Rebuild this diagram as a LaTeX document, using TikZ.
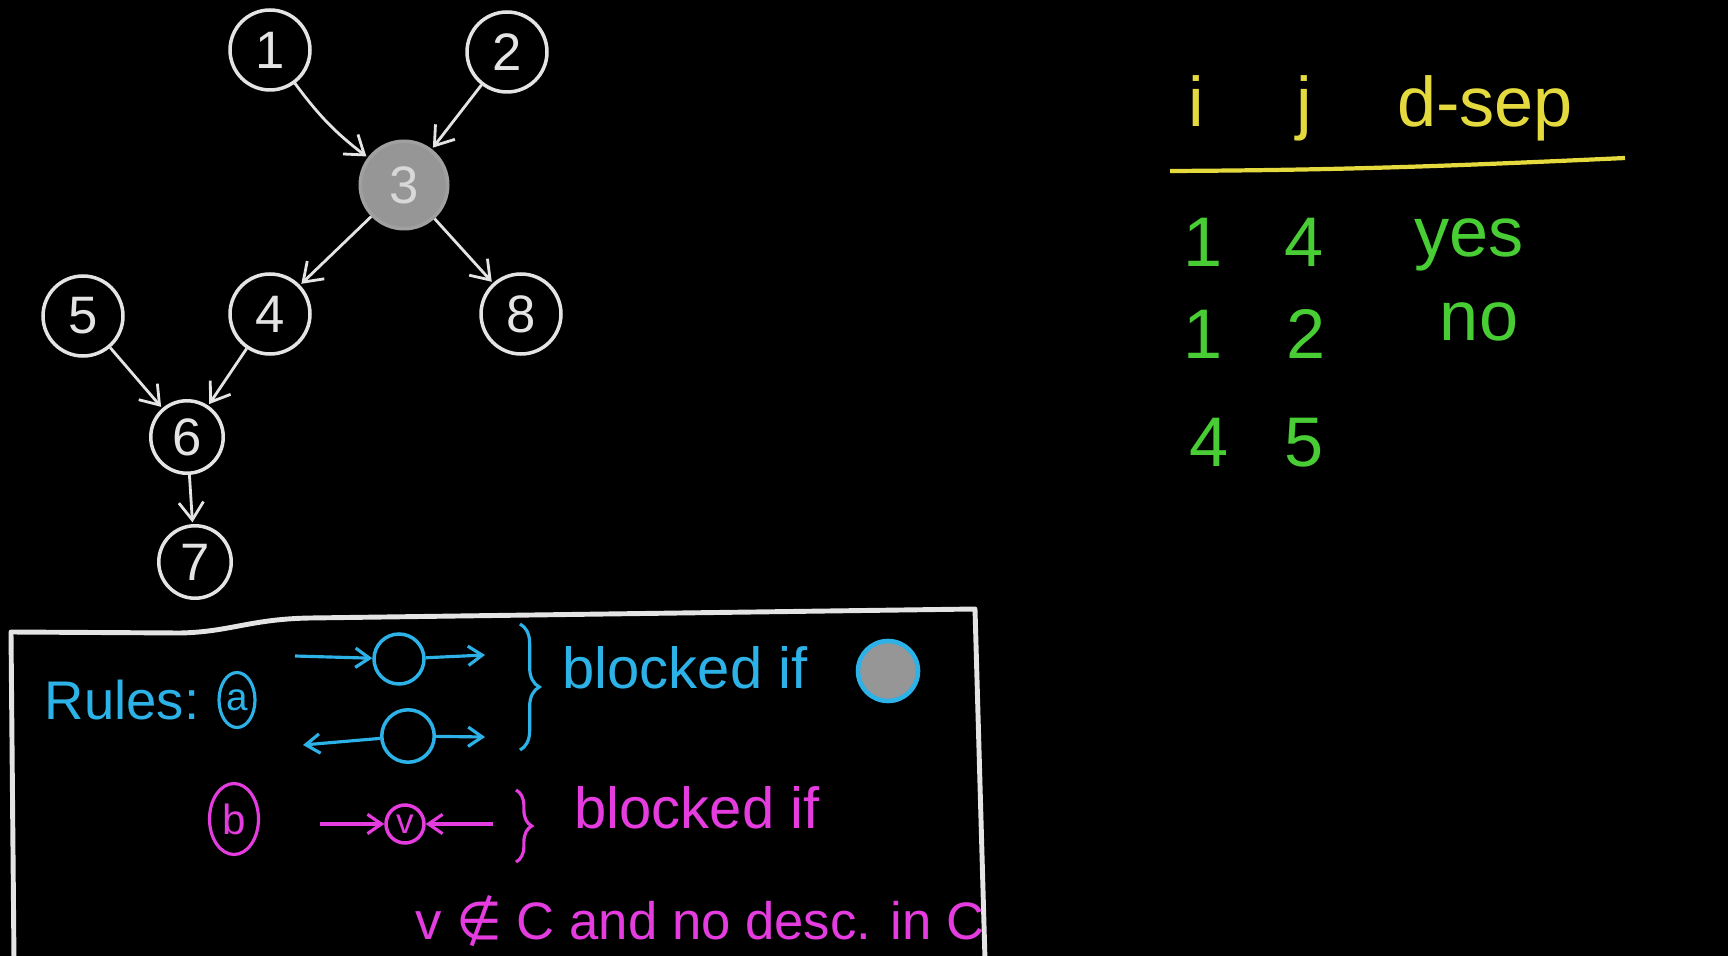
\documentclass[tikz,border=0pt]{standalone}
\usepackage{fontspec}
\setmainfont{Liberation Sans}
\newfontfamily\symfont{DejaVu Sans}
\usepackage{tikz}
\usetikzlibrary{shapes.geometric, positioning, arrows.meta, decorations.pathreplacing}
\definecolor{chalk}{RGB}{228,228,228}
\definecolor{obsgray}{RGB}{150,150,150}
\definecolor{rulecyan}{RGB}{45,178,232}
\definecolor{rulepink}{RGB}{228,60,222}
\definecolor{headyellow}{RGB}{228,218,62}
\definecolor{rowgreen}{RGB}{72,205,52}

\begin{document}
\begin{tikzpicture}[
        x=0.02cm, y=-0.02cm,
        vertex/.style={draw=chalk, circle, line width=2pt, minimum size=1.6cm, inner sep=0pt, text=chalk, font=\fontsize{30}{30}\selectfont},
        observed/.style={vertex, fill=obsgray, draw=obsgray!90!white, text=chalk!85!obsgray},
        arr/.style={-{Straight Barb[length=10pt, width=14pt]}, line width=1.6pt, chalk, shorten >=1pt},
        cyanarr/.style={-{Straight Barb[length=8pt, width=11pt]}, line width=1.8pt, rulecyan},
        pinkarr/.style={-{Straight Barb[length=8pt, width=11pt]}, line width=1.8pt, rulepink},
        blob/.style={circle, line width=2pt, inner sep=0pt, minimum size=1cm},
        note/.style={font=\fontsize{33}{36}\selectfont},
        cell/.style={anchor=base, font=\fontsize{40}{40}\selectfont}
    ]
    \useasboundingbox (0,0) rectangle (1728,956);
    \fill[black] (0,0) rectangle (1728,956);

    % Graph
    \node[vertex] (n1) at (270,50) {1};
    \node[vertex] (n2) at (507,52) {2};
    \node[observed, minimum size=1.75cm] (n3) at (404,185) {3};
    \node[vertex] (n4) at (270,314) {4};
    \node[vertex] (n5) at (83,316) {5};
    \node[vertex] (n8) at (521,314) {8};
    \node[vertex, minimum size=1.45cm] (n6) at (187,437) {6};
    \node[vertex, minimum size=1.45cm] (n7) at (195,562) {7};

    \draw[arr] (n1) to[bend right=8] (n3);
    \draw[arr] (n2) -- (n3);
    \draw[arr] (n3) -- (n4);
    \draw[arr] (n3) -- (n8);
    \draw[arr] (n5) -- (n6);
    \draw[arr] (n4) -- (n6);
    \draw[arr] (n6) -- (n7);

    % Rules box
    \draw[chalk, line width=2.8pt, line join=round]
        (14,960) -- (11,632) -- (180,633) .. controls (230,632) and (250,619) .. (310,618)
        -- (975,609) -- (985,960);

    % Rule (a)
    \node[note, text=rulecyan, font=\fontsize{31}{34}\selectfont] (rules) at (122,700) {Rules:};
    \node[draw=rulecyan, ellipse, line width=1.8pt, minimum width=0.72cm, minimum height=1.1cm, inner sep=0pt,
          text=rulecyan, font=\fontsize{22}{22}\selectfont] (ra) at (237,700) {a};
    \coordinate (a1in) at (295,656);
    \coordinate (a1out) at (485,655);
    \coordinate (a2in) at (303,745);
    \coordinate (a2out) at (485,737);
    \node[blob, draw=rulecyan] (ca1) at (399,659) {};
    \node[blob, draw=rulecyan, minimum size=1.05cm] (ca2) at (408,736) {};
    \draw[cyanarr] (a1in) -- (ca1);
    \draw[cyanarr] (ca1) -- (a1out);
    \draw[cyanarr] (ca2) -- (a2in);
    \draw[cyanarr] (ca2) -- (a2out);
    \draw[rulecyan, line width=1.8pt, decorate, decoration={brace, amplitude=11pt}] (520,624) -- (520,750);
    \node[note, text=rulecyan] (blockeda) at (685,668) {blocked if};
    \node[blob, draw=rulecyan, fill=obsgray, line width=2.6pt, minimum size=1.2cm] (cgiven) at (888,671) {};

    % Rule (b)
    \node[draw=rulepink, ellipse, line width=1.8pt, minimum width=0.98cm, minimum height=1.42cm, inner sep=0pt,
          text=rulepink, font=\fontsize{24}{24}\selectfont] (rb) at (234,819) {b};
    \coordinate (bin) at (320,824);
    \coordinate (bout) at (493,824);
    \node[blob, draw=rulepink, minimum size=0.76cm, text=rulepink, font=\fontsize{20}{20}\selectfont] (pv) at (405,824) {v};
    \draw[pinkarr] (bin) -- (pv);
    \draw[pinkarr] (bout) -- (pv);
    \draw[rulepink, line width=1.8pt, decorate, decoration={brace, amplitude=9pt}] (516,790) -- (516,862);
    \node[note, text=rulepink] (blockedb) at (697,808) {blocked if};
    \node[note, text=rulepink, font=\fontsize{30}{34}\selectfont] (condb) at (700,921) {v {\symfont∉} C and no desc. in C};

    % Table
    \node[cell, text=headyellow] (hi) at (1196,127) {i};
    \node[cell, text=headyellow] (hj) at (1304,127) {j};
    \node[cell, text=headyellow] (hd) at (1485,127) {d-sep};
    \draw[headyellow, line width=2.4pt] (1170,171) .. controls (1350,170) and (1450,166) .. (1625,158);

    \node[cell, text=rowgreen] (r1i) at (1203,267) {1};
    \node[cell, text=rowgreen] (r1j) at (1304,267) {4};
    \node[cell, text=rowgreen] (r1d) at (1469,257) {yes};
    \node[cell, text=rowgreen] (r2i) at (1203,358) {1};
    \node[cell, text=rowgreen] (r2j) at (1306,358) {2};
    \node[cell, text=rowgreen] (r2d) at (1479,340) {no};
    \node[cell, text=rowgreen] (r3i) at (1209,466) {4};
    \node[cell, text=rowgreen] (r3j) at (1304,466) {5};

\end{tikzpicture}
\end{document}
